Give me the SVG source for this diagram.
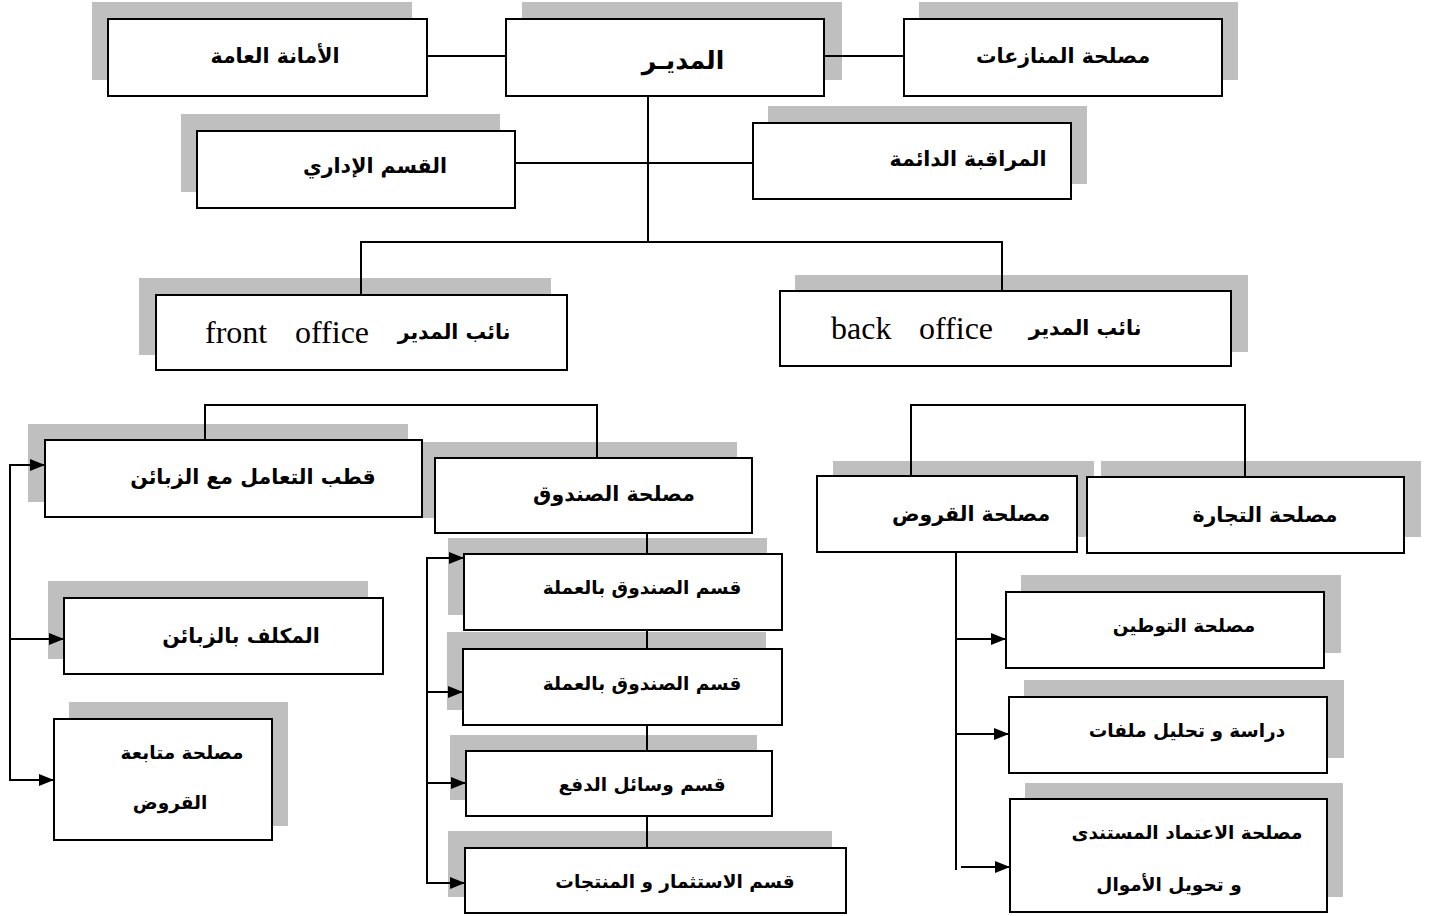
<svg xmlns="http://www.w3.org/2000/svg" width="1429" height="916" viewBox="0 0 1429 916">
<style>
.sh{fill:#bfbfbf}
.bx{fill:#fff;stroke:#000;stroke-width:2}
.t{font-family:"DejaVu Sans",sans-serif;font-weight:bold;font-size:20.5px;fill:#000;text-anchor:middle;dominant-baseline:central}
.s{font-size:18.5px}
.en{font-family:"Liberation Serif",serif;font-size:32px;fill:#000;dominant-baseline:central}
.c{fill:none;stroke:#000;stroke-width:2}
.a{fill:none;stroke:#000;stroke-width:2;marker-end:url(#arr)}
</style>
<defs>
<marker id="arr" markerWidth="15" markerHeight="12" refX="15" refY="6" orient="auto" markerUnits="userSpaceOnUse"><path d="M0,0 L15,6 L0,12 Z" fill="#000"/></marker>
</defs>
<rect width="1429" height="916" fill="#fff"/>

<g id="n-amana"><rect class="sh" x="92" y="2" width="320" height="78"/><rect class="bx" x="108" y="19" width="319" height="77"/><text class="t" x="275" y="56">الأمانة العامة</text></g>
<g id="n-mudir"><rect class="sh" x="522" y="2" width="320" height="78"/><rect class="bx" x="506" y="19" width="318" height="77"/><text class="t" x="683" y="60" style="font-size:25px">المديـر</text></g>
<g id="n-munazaat"><rect class="sh" x="919" y="2" width="319" height="78"/><rect class="bx" x="904" y="19" width="318" height="77"/><text class="t" x="1063" y="56">مصلحة المنازعات</text></g>
<g id="n-idari"><rect class="sh" x="181" y="114" width="319" height="78"/><rect class="bx" x="197" y="131" width="318" height="77"/><text class="t" x="375" y="166">القسم الإداري</text></g>
<g id="n-muraqaba"><rect class="sh" x="768" y="106" width="319" height="78"/><rect class="bx" x="753" y="123" width="318" height="76"/><text class="t" x="968" y="159">المراقبة الدائمة</text></g>
<g id="n-front"><rect class="sh" x="139" y="278" width="412" height="77"/><rect class="bx" x="156" y="295" width="411" height="75"/><text class="en" x="205" y="332">front</text><text class="en" x="295" y="332">office</text><text class="t" x="454" y="332">نائب المدير</text></g>
<g id="n-back"><rect class="sh" x="795" y="275" width="453" height="77"/><rect class="bx" x="780" y="291" width="451" height="75"/><text class="en" x="831" y="328">back</text><text class="en" x="919" y="328">office</text><text class="t" x="1085" y="328">نائب المدير</text></g>

<g id="n-sunduq"><rect class="sh" x="419" y="442" width="318" height="76"/><rect class="bx" x="435" y="458" width="317" height="75"/><text class="t" x="614" y="494">مصلحة الصندوق</text></g>
<g id="n-qutb"><rect class="sh" x="28" y="424" width="380" height="78"/><rect class="bx" x="45" y="440" width="377" height="77"/><text class="t" x="253" y="477">قطب التعامل مع الزبائن</text></g>
<g id="n-qurud"><rect class="sh" x="833" y="461" width="261" height="76"/><rect class="bx" x="817" y="476" width="260" height="76"/><text class="t" x="971" y="514">مصلحة القروض</text></g>
<g id="n-tijara"><rect class="sh" x="1101" y="461" width="320" height="76"/><rect class="bx" x="1087" y="477" width="317" height="76"/><text class="t" x="1265" y="515">مصلحة التجارة</text></g>

<g id="n-mukallaf"><rect class="sh" x="48" y="581" width="320" height="78"/><rect class="bx" x="64" y="598" width="319" height="76"/><text class="t" x="241" y="636">المكلف بالزبائن</text></g>
<g id="n-mutabaa"><rect class="sh" x="69" y="702" width="219" height="124"/><rect class="bx" x="54" y="719" width="218" height="121"/><text class="t s" x="182" y="752">مصلحة متابعة</text><text class="t s" x="170" y="802">القروض</text></g>

<g id="n-q1"><rect class="sh" x="448" y="538" width="319" height="77"/><rect class="bx" x="464" y="554" width="318" height="76"/><text class="t s" x="642" y="587">قسم الصندوق بالعملة</text></g>
<g id="n-q2"><rect class="sh" x="447" y="632" width="319" height="78"/><rect class="bx" x="463" y="649" width="319" height="76"/><text class="t s" x="642" y="683">قسم الصندوق بالعملة</text></g>
<g id="n-q3"><rect class="sh" x="450" y="735" width="307" height="65"/><rect class="bx" x="466" y="751" width="306" height="65"/><text class="t s" x="642" y="784">قسم وسائل الدفع</text></g>
<g id="n-q4"><rect class="sh" x="448" y="831" width="384" height="66"/><rect class="bx" x="465" y="848" width="381" height="65"/><text class="t s" x="675" y="881">قسم الاستثمار و المنتجات</text></g>

<g id="n-tawtin"><rect class="sh" x="1021" y="575" width="320" height="78"/><rect class="bx" x="1006" y="592" width="318" height="76"/><text class="t s" x="1184" y="625">مصلحة التوطين</text></g>
<g id="n-dirasa"><rect class="sh" x="1024" y="680" width="320" height="78"/><rect class="bx" x="1009" y="697" width="318" height="76"/><text class="t s" x="1187" y="730">دراسة و تحليل ملفات</text></g>
<g id="n-itimad"><rect class="sh" x="1025" y="783" width="318" height="114"/><rect class="bx" x="1010" y="799" width="317" height="113"/><text class="t s" x="1187" y="832">مصلحة الاعتماد المستندى</text><text class="t s" x="1169" y="884">و تحويل الأموال</text></g>

<g id="connectors">
<path class="c" d="M427,56 H506 M824,56 H904"/>
<path class="c" d="M648,96 V242 M515,163 H753"/>
<path class="c" d="M361,295 V242 H1002 V291"/>
<path class="c" d="M205,440 V405 H597 V458"/>
<path class="c" d="M911,476 V405 H1245 V477"/>
<path class="c" d="M647,533 V554 M647,630 V649 M647,725 V751 M647,816 V848"/>
<path class="c" d="M10,465 V780"/>
<path class="a" d="M9,465 H45"/>
<path class="a" d="M9,639 H64"/>
<path class="a" d="M9,780 H54"/>
<path class="c" d="M427,558 V883"/>
<path class="a" d="M426,558 H464"/>
<path class="a" d="M426,692 H463"/>
<path class="a" d="M426,783 H466"/>
<path class="a" d="M426,883 H465"/>
<path class="c" d="M956,552 V870"/>
<path class="a" d="M955,639 H1006"/>
<path class="a" d="M955,734 H1009"/>
<path class="a" d="M961,867 H1010"/>
</g>
</svg>
